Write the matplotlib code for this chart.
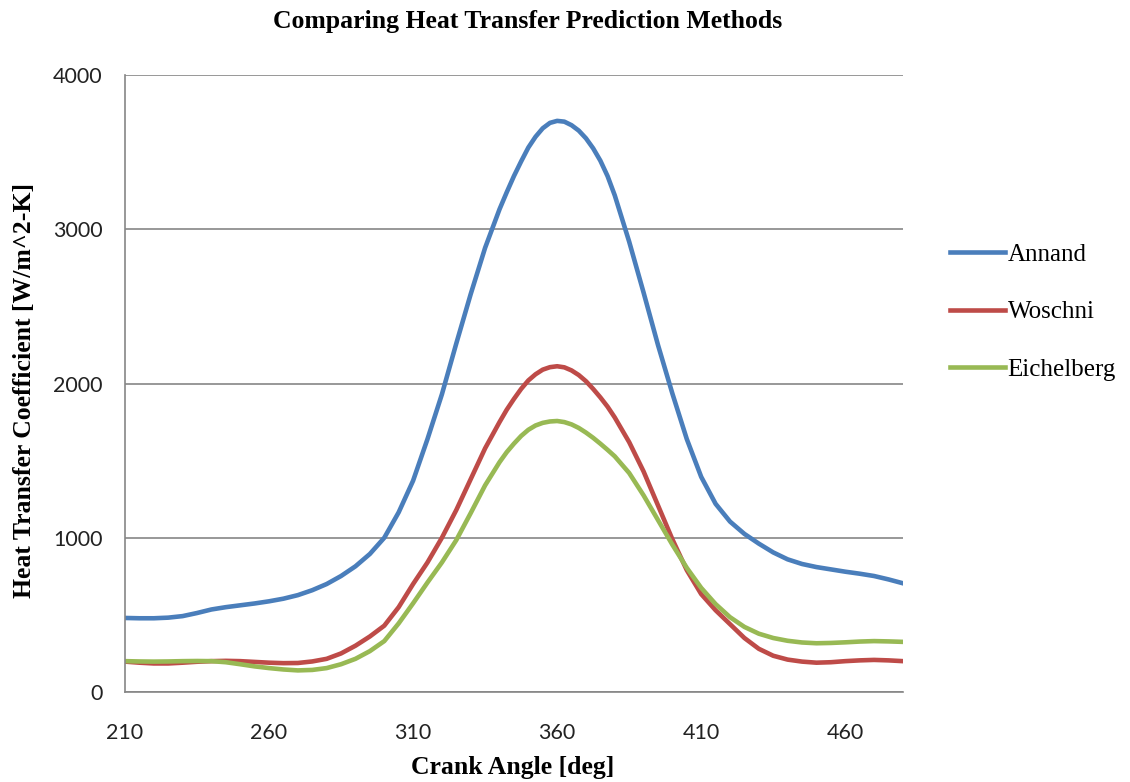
import matplotlib.pyplot as plt

# crank angle [deg] and heat transfer coefficients [W/m^2-K]
crank = [210, 215, 220, 225, 230, 235, 240, 245, 250, 255, 260, 265, 270, 275, 280,
         285, 290, 295, 300, 305, 310, 315, 320, 325, 330, 335, 340, 342.5, 345, 347.5,
         350, 352.5, 355, 357.5, 360, 362.5, 365, 367.5, 370, 372.5, 375, 377.5, 380, 385, 390,
         395, 400, 405, 410, 415, 420, 425, 430, 435, 440, 445, 450, 455, 460, 465,
         470, 475, 480]
annand = [480, 478, 478, 482, 492, 512, 535, 550, 562, 574, 588, 605, 628, 660, 700,
          752, 815, 895, 1000, 1165, 1370, 1640, 1930, 2260, 2580, 2880, 3130, 3240, 3345, 3440,
          3530, 3600, 3655, 3690, 3703, 3698, 3675, 3640, 3590, 3525, 3445, 3345, 3220, 2920, 2590,
          2250, 1935, 1640, 1395, 1220, 1105, 1025, 962, 905, 860, 830, 810, 795, 780, 767,
          752, 730, 705]
woschni = [197, 190, 185, 185, 190, 196, 200, 202, 200, 195, 190, 187, 188, 198, 215,
           250, 300, 360, 430, 550, 700, 840, 1000, 1180, 1380, 1580, 1750, 1830, 1900, 1965,
           2020, 2060, 2090, 2106, 2112, 2105, 2085, 2055, 2015, 1965, 1910, 1850, 1780, 1620, 1430,
           1210, 990, 790, 635, 530, 440, 350, 280, 235, 210, 197, 190, 193, 200, 205,
           208, 205, 200]
eichelberg = [200, 198, 197, 198, 200, 201, 200, 193, 180, 166, 155, 146, 140, 143, 155,
              180, 215, 265, 330, 445, 575, 710, 840, 985, 1160, 1340, 1490, 1555, 1610, 1660,
              1700, 1728, 1745, 1754, 1757, 1750, 1735, 1712, 1682, 1648, 1610, 1570, 1528, 1420, 1275,
              1115, 955, 805, 675, 570, 485, 422, 378, 350, 332, 321, 316, 318, 322, 327,
              330, 328, 325]

names = ["Annand", "Woschni", "Eichelberg"]
colors = ["#4A7EBB", "#BE4B48", "#98B954"]

fig = plt.figure(figsize=(11.3, 7.82), dpi=100)
ax = fig.add_axes([0.1106, 0.1151, 0.6884, 0.7889])

for ys, name, c in zip([annand, woschni, eichelberg], names, colors):
    ax.plot(crank, ys, color=c, lw=3.3, label=name, solid_joinstyle="round")

ax.set_xlim(210, 480)
ax.set_ylim(0, 4000)
ax.set_xticks([210, 260, 310, 360, 410, 460])
ax.set_yticks([0, 1000, 2000, 3000, 4000])
ax.grid(axis="y", color="#868686", lw=1.2)
ax.set_axisbelow(True)
for s in ["top", "right"]:
    ax.spines[s].set_visible(False)
for s in ["left", "bottom"]:
    ax.spines[s].set_color("#868686")
    ax.spines[s].set_linewidth(1.2)
ax.tick_params(axis="x", length=0, pad=22, labelsize=15.5)
ax.tick_params(axis="y", length=0, pad=16, labelsize=15.5)
for t in ax.get_xticklabels() + ax.get_yticklabels():
    t.set_fontfamily("Lato")
    t.set_color("#222222")

serif = "Liberation Serif"
fig.text(0.467, 0.973, "Comparing Heat Transfer Prediction Methods", ha="center", va="center",
         fontsize=18.5, fontweight="bold", family=serif)
fig.text(0.4535, 0.018, "Crank Angle [deg]", ha="center", va="center",
         fontsize=18.5, fontweight="bold", family=serif)
fig.text(0.022, 0.5, "Heat Transfer Coefficient [W/m^2-K]", ha="center", va="center",
         rotation=90, fontsize=18.5, fontweight="bold", family=serif)

fig.legend(loc="center left", bbox_to_anchor=(0.8407, 0.601), frameon=False,
           prop={"family": serif, "size": 18}, handlelength=2.2, handletextpad=0.1,
           labelspacing=1.4, borderpad=0, borderaxespad=0)

fig.savefig("out.png", dpi=100)
